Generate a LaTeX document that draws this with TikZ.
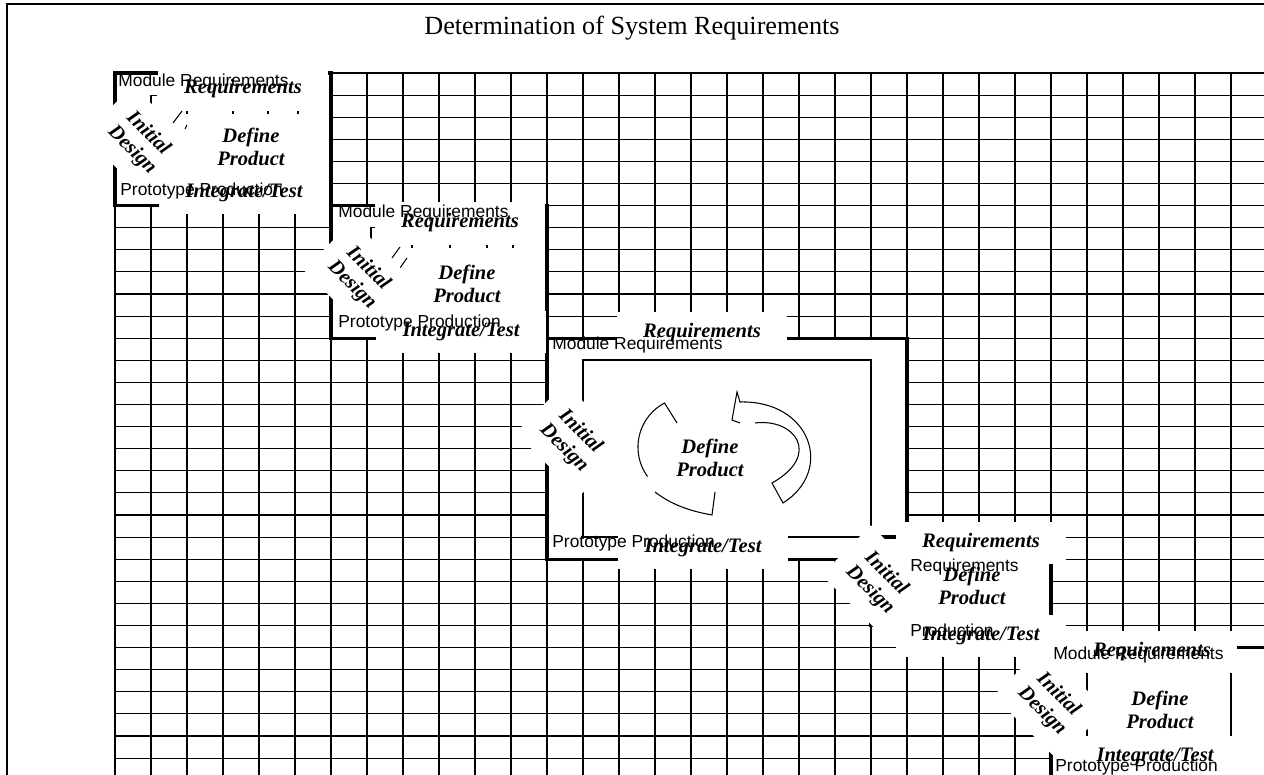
\documentclass[tikz,border=0pt]{standalone}
\usepackage{fontspec}
\setmainfont{Liberation Serif}
\setsansfont{Liberation Sans}
\usepackage{tikz}
\tikzset{
  rejilla/.style={line width=0.6pt},
  marco/.style={line width=1.9pt},
  interior/.style={line width=1pt},
  trazo/.style={line width=0.6pt},
  fase/.style={fill=white, inner sep=0pt, minimum width=34mm, minimum height=8.4mm,
    font=\fontsize{11.7}{13}\selectfont\bfseries\itshape},
  diseno/.style={fill=white, inner sep=0pt, minimum width=18mm, minimum height=14mm,
    align=center, rotate=-45, font=\fontsize{11.7}{13}\selectfont\bfseries\itshape},
  prod/.style={align=center, inner sep=0pt, font=\fontsize{11.7}{13}\selectfont\bfseries\itshape},
  modulo/.style={anchor=west, inner sep=0pt, font=\fontsize{9.9}{11}\selectfont\sffamily},
}

\begin{document}
\begin{tikzpicture}[x=0.2mm, y=-0.2mm]
  \useasboundingbox (0,0) rectangle (1264,775);
  \clip (0,0) rectangle (1264,775);
  \draw[line width=1.4pt] (7,775) -- (7,4) -- (1264,4);
  \node[font=\fontsize{14.9}{17}\selectfont] (titulo) at (632,28) {Determination of System Requirements};
  \foreach \i in {0,...,31}
    \draw[rejilla] ({115+36*\i},73) -- ({115+36*\i},775);
  \foreach \j in {0,...,31}
    \draw[rejilla] (115,{73+22.1*\j}) -- (1264,{73+22.1*\j});
  \draw[line width=1.2pt] (115,775) -- (115,73) -- (1264,73);
  \foreach \xa/\ya/\xb/\yb in {115/73/331/205.6, 331/205.6/547/338.2,
      547/338.2/907/559.2, 871/537.1/1051/625.5, 1051/647.6/1300/800}
    \draw[marco, fill=white] (\xa,\ya) rectangle (\xb,\yb);
  \draw[interior] (583,360.3) rectangle (871,537.1);
  \draw[interior] (1087,669.7) rectangle (1231,745);
  \draw[trazo] (677,423) -- (664.5,403) arc[start angle=-118, end angle=-216, radius=50];
  \draw[trazo] (655,492) .. controls (672,505) and (690,511) .. (712,515) -- (715,492);
  \draw[trazo] (755,423) .. controls (795,418) and (822,455) .. (772,483) -- (783,503)
    .. controls (835,470) and (810,400) .. (740,402) -- (737,392) -- (732,420) -- (740,423);
  \draw[trazo] (151,104) -- (151,95.1) -- (157,95.1);
  \draw[trazo] (173,123) -- (182,111) (185,129) -- (187,125);
  \draw[trazo] (371,240) -- (371,227.7) -- (377,227.7);
  \draw[trazo] (392,258) -- (400,247) (400,268) -- (407,258);
  \foreach \x/\y in {187/111, 233/111, 268/111, 298/111, 412/245, 450/245, 487/245, 513/245}
    \draw[trazo] (\x,\y) -- (\x,{\y+3});
  \foreach \n/\rx/\ry/\ix/\iy/\dx/\dy in {1/243/89/244/193/140/142, 2/460/223/461/332/360/277,
      3/702/333/703/548/572/440, 4/981/543/981/636/878/582, 5/1152/652/1155/757/1050/703} {
    \node[fase] (req\n) at (\rx,\ry) {Requirements};
    \node[fase] (int\n) at (\ix,\iy) {Integrate/Test};
    \node[diseno] (dis\n) at (\dx,\dy) {Initial\\Design};
  }
  \foreach \n/\x/\y in {1/251/147, 2/467/284, 3/710/458, 4/972/586, 5/1160/710}
    \node[prod] (def\n) at (\x,\y) {Define\\Product};
  \foreach \n/\x/\y/\t in {m1/118/82/Module Requirements, p1/120/191/Prototype Production,
      m2/338/213/Module Requirements, p2/338/323/Prototype Production,
      m3/552/345/Module Requirements, p3/552/543/Prototype Production,
      m4/910/567/Requirements, p4/910/630/Production,
      m5/1053/655/Module Requirements, p5/1055/767/Prototype Production}
    \node[modulo] (lab\n) at (\x,\y) {\t};
\end{tikzpicture}
\end{document}
